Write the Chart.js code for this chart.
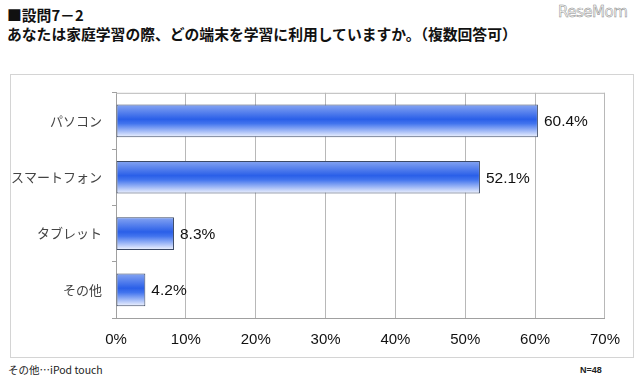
<!DOCTYPE html>
<html>
<head>
<meta charset="utf-8">
<script src="https://cdn.jsdelivr.net/npm/chart.js@4"></script>
<style>
  body { margin: 0; width: 640px; height: 387px; background: #fff; position: relative; overflow: hidden;
         font-family: "Noto Sans CJK JP", "Noto Sans", sans-serif; }
  .title { position: absolute; left: 7px; font-weight: bold; font-size: 14.8px; color: #111; white-space: nowrap; }
  #t1 { top: 4px; }
  #t2 { top: 23px; }
  #logo { position: absolute; left: 558px; top: 3px; font-family: "DejaVu Sans", sans-serif; font-size: 15px;
          color: #fff; -webkit-text-stroke: 0.5px #888; letter-spacing: -0.5px; }
  #box { position: absolute; left: 10px; top: 74px; width: 622px; height: 282px; border: 1px solid #d4d4d4; }
  #note { position: absolute; left: 8px; top: 362px; font-size: 10.5px; color: #222; }
  #n { position: absolute; left: 580px; top: 365px; font-size: 9px; font-weight: bold; color: #222;
       font-family: "Liberation Sans", sans-serif; }
</style>
</head>
<body>
<div class="title" id="t1">■設問7－2</div>
<div class="title" id="t2">あなたは家庭学習の際、どの端末を学習に利用していますか。（複数回答可）</div>
<div id="logo">ReseMom</div>
<div id="box"><canvas id="c" width="622" height="282"></canvas></div>
<div id="note">その他…iPod touch</div>
<div id="n">N=48</div>
<script>
const categories = ['パソコン', 'スマートフォン', 'タブレット', 'その他']
const shares = [60.4, 52.1, 8.3, 4.2]
const axisMax = 70
const axisStep = 10
const barFraction = 0.58

const barFill = (ctx) => {
  const chart = ctx.chart
  const y = chart.scales.y
  if (!chart.chartArea || !y || ctx.dataIndex === undefined) return '#2f63e6'
  const center = y.getPixelForValue(ctx.dataIndex)
  const half = (y.height / categories.length) * barFraction / 2
  const g = chart.ctx.createLinearGradient(0, center - half, 0, center + half)
  g.addColorStop(0, '#86a5f2')
  g.addColorStop(0.45, '#2a5fe8')
  g.addColorStop(0.58, '#4274ee')
  g.addColorStop(1, '#f2f5fe')
  return g
}

const valueLabels = {
  id: 'valueLabels',
  afterDatasetsDraw(chart) {
    const { ctx } = chart
    const meta = chart.getDatasetMeta(0)
    ctx.save()
    ctx.font = '15.5px "Liberation Sans", "DejaVu Sans", sans-serif'
    ctx.fillStyle = '#111'
    ctx.textBaseline = 'middle'
    meta.data.forEach((bar, i) => {
      ctx.fillText(shares[i].toFixed(1) + '%', bar.x + 6, bar.y + 1)
    })
    ctx.restore()
  }
}

const plotTop = {
  id: 'plotTop',
  beforeDatasetsDraw(chart) {
    const { ctx, chartArea } = chart
    ctx.save()
    ctx.strokeStyle = '#b8b8b8'
    ctx.lineWidth = 1
    ctx.beginPath()
    ctx.moveTo(chartArea.left, chartArea.top + 0.5)
    ctx.lineTo(chartArea.right, chartArea.top + 0.5)
    ctx.stroke()
    ctx.restore()
  }
}

new Chart(document.getElementById('c'), {
  type: 'bar',
  data: {
    labels: categories,
    datasets: [{
      data: shares,
      backgroundColor: barFill,
      borderColor: '#3c4a66',
      borderWidth: 1,
      borderSkipped: false,
      categoryPercentage: 1,
      barPercentage: barFraction
    }]
  },
  options: {
    indexAxis: 'y',
    responsive: false,
    animation: false,
    layout: { padding: { top: 8, right: 26, left: 0, bottom: 0 } },
    plugins: { legend: { display: false }, tooltip: { enabled: false } },
    scales: {
      x: {
        min: 0,
        max: axisMax,
        ticks: {
          stepSize: axisStep,
          callback: (v) => v + '%',
          color: '#111',
          padding: 13,
          font: { size: 15, family: '"Liberation Sans", "DejaVu Sans", sans-serif' }
        },
        grid: { color: '#b8b8b8', drawTicks: false },
        border: { color: '#a0a0a0' },
        afterFit: (s) => { s.height = 39 }
      },
      y: {
        grid: { offset: true, drawOnChartArea: false, tickLength: 4, color: '#a0a0a0' },
        border: { color: '#a0a0a0' },
        ticks: {
          color: '#444',
          padding: 10,
          font: { size: 13, family: '"Noto Sans CJK JP", sans-serif' }
        },
        afterFit: (s) => { s.width = 105 }
      }
    }
  },
  plugins: [valueLabels, plotTop]
})
</script>
</body>
</html>
